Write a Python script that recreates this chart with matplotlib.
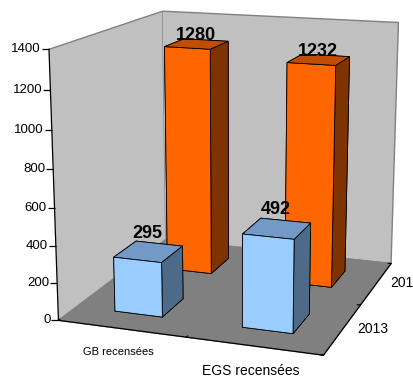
import matplotlib
matplotlib.use('Agg')
import matplotlib.pyplot as plt
import matplotlib.transforms as mtrans
import numpy as np

categories = ['GB recensées', 'EGS recensées']
years = ['2013', '2014']
values_2013 = [295, 492]
values_2014 = [1280, 1232]
z_ticks = [0, 200, 400, 600, 800, 1000, 1200, 1400]

plt.rcParams['font.family'] = ['Liberation Sans', 'DejaVu Sans']

W, H = 413, 376
fig = plt.figure(figsize=(W / 100, H / 100), dpi=100)
ax = fig.add_axes([0.05645, 0.04569, 1.0, 1.0], projection='3d', proj_type='persp',
                  focal_length=0.65455, computed_zorder=False)
ax.view_init(elev=14.31391, azim=-70.77043)
ax.set_box_aspect((1.00319, 1.04014, 1.0), zoom=1.19425)
ax.set_xlim(0, 2)
ax.set_ylim(0, 2)
ax.set_zlim(0, 1400)

bar_w = 0.38
bar_d = 0.40
# face order: -z, +z, -y, +y, -x, +x
faces_2013 = ['#99CCFF', '#7399C6', '#99CCFF', '#99CCFF', '#4D6A88', '#4D6A88']
faces_2014 = ['#FF6600', '#C04D00', '#FF6600', '#FF6600', '#7F3300', '#7F3300']

xs = np.arange(len(categories)) + 0.5
for j, (vals, faces, zo, off) in enumerate([(values_2014, faces_2014, 1, 0),
                                             (values_2013, faces_2013, 2, 10)]):
    row = 1 - j  # 2014 is the back row
    c = ax.bar3d(xs - bar_w / 2, np.full(len(xs), row + 0.5 - bar_d / 2),
                 np.zeros(len(xs)), bar_w, bar_d, vals,
                 color=faces * len(xs), shade=False,
                 edgecolor='black', linewidth=0.6)
    c.set_zorder(zo)
    for x, v in zip(xs, vals):
        ax.text(x, row + 0.5, v, str(v), ha='center', va='bottom',
                fontsize=13, fontweight='bold', zorder=5,
                transform=mtrans.offset_copy(ax.transData, fig=fig, x=-1, y=off, units='dots'))

ax.grid(False)
ax.xaxis.set_pane_color('#C0C0C0')
ax.yaxis.set_pane_color('#C0C0C0')
ax.zaxis.set_pane_color('#808080')
for a in (ax.xaxis, ax.yaxis, ax.zaxis):
    a.pane.set_edgecolor('#808080')
    a.line.set_color('black')
    a.line.set_linewidth(0.9)
    a._axinfo['tick']['inward_factor'] = 0.0
    a._axinfo['tick']['outward_factor'] = 0.15
ax.zaxis._axinfo['juggled'] = (1, 2, 0)
ax.zaxis._axinfo['tick']['outward_factor'] = 0.0

ax.set_xticks([0, 1, 2])
ax.set_xticklabels(['', '', ''])
ax.set_yticks([0, 1, 2])
ax.set_yticklabels(['', '', ''])
ax.set_zticks(z_ticks)
ax.set_zticklabels([''] * len(z_ticks))

# z ticks and labels drawn horizontally to the left of the vertical axis
ax.plot(np.zeros(len(z_ticks)), np.zeros(len(z_ticks)), z_ticks, linestyle='none',
        marker=0, markersize=5, markeredgewidth=0.9, color='black', zorder=4)
for t in z_ticks:
    ax.text(0, 0, t, str(t), ha='right', va='center', fontsize=9.5, zorder=5,
            transform=mtrans.offset_copy(ax.transData, fig=fig, x=-8, units='dots'))

for x, cat, fs in zip(xs, categories, [8, 10]):
    ax.text(x, 0, 0, cat, ha='center', va='top', fontsize=fs,
            transform=mtrans.offset_copy(ax.transData, fig=fig, x=-3, y=-18, units='dots'))
for j, yr in enumerate(years):
    ax.text(2, j + 0.5, 0, yr, ha='left', va='center', fontsize=10,
            transform=mtrans.offset_copy(ax.transData, fig=fig, x=14, units='dots'))

fig.savefig('out.png', dpi=100)
